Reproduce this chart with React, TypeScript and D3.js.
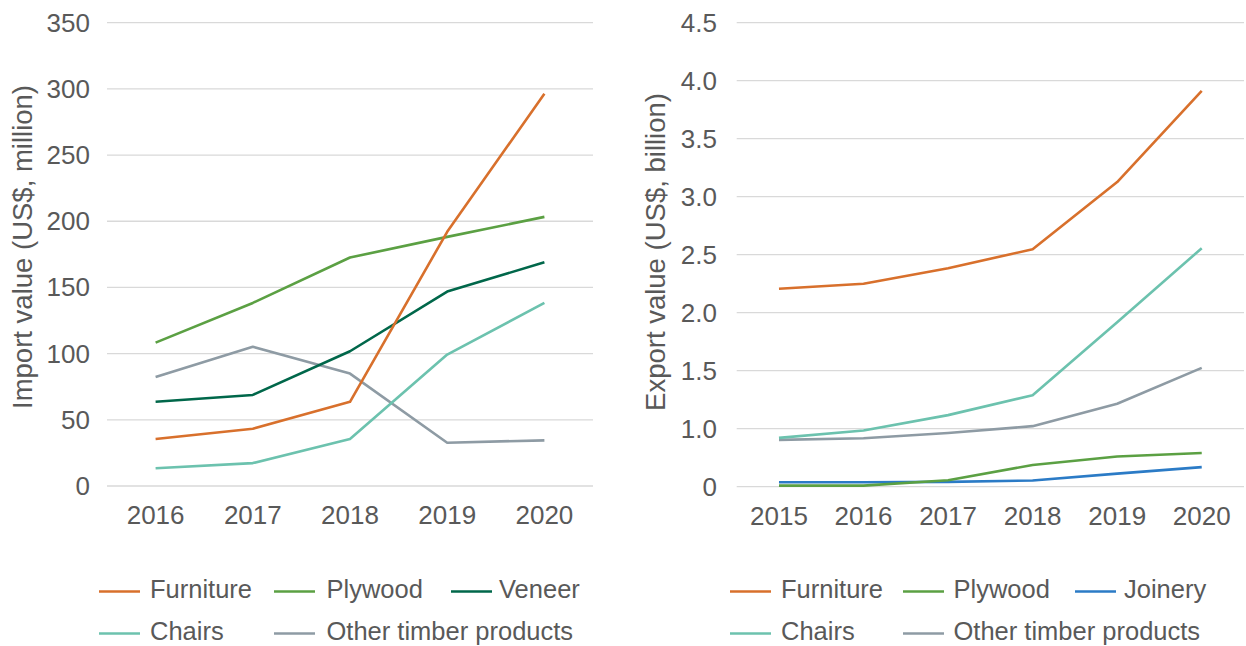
import React from "react";
import * as d3 from "d3";

const importYears = ["2016", "2017", "2018", "2019", "2020"];
const importFurniture = [35.5, 43.3, 63.6, 192, 296.4];
const importPlywood = [108.3, 138.3, 172.6, 188.2, 203.3];
const importVeneer = [63.6, 68.8, 101.8, 146.9, 169];
const importChairs = [13.4, 17.3, 35.5, 99.3, 138.3];
const importOther = [82.3, 105.2, 84.9, 32.7, 34.5];
const importTicks = [0, 50, 100, 150, 200, 250, 300, 350];

const exportYears = ["2015", "2016", "2017", "2018", "2019", "2020"];
const exportFurniture = [2.206, 2.25, 2.384, 2.547, 3.126, 3.912];
const exportPlywood = [0.509, 0.509, 0.556, 0.687, 0.761, 0.791];
const exportJoinery = [0.539, 0.539, 0.542, 0.553, 0.613, 0.669];
const exportChairs = [0.921, 0.984, 1.117, 1.289, 1.918, 2.556];
const exportOther = [0.904, 0.918, 0.963, 1.022, 1.215, 1.524];
const exportTickValues = [0.5, 1.0, 1.5, 2.0, 2.5, 3.0, 3.5, 4.0, 4.5];
const exportTickLabels = ["0", "1.0", "1.5", "2.0", "2.5", "3.0", "3.5", "4.0", "4.5"];

const C = {
  furniture: "#D8702C",
  plywood: "#5BA043",
  veneer: "#00674A",
  chairs: "#6CC2AE",
  other: "#8E9BA4",
  joinery: "#2B7BC6",
};
const FONT = "'Liberation Sans', Arial, Helvetica, sans-serif";
const TEXT = "#595959";
const GRID = "#D9D9D9";

type Series = { name: string; color: string; values: number[] };

function Panel(props: {
  years: string[];
  series: Series[];
  x0: number;
  x1: number;
  yTop: number;
  yBottom: number;
  domain: [number, number];
  tickValues: number[];
  tickLabels: string[];
  labelRight: number;
  title: string;
  titleX: number;
  titleY: number;
}) {
  const { years, series, x0, x1, yTop, yBottom, domain, tickValues, tickLabels, labelRight, title, titleX, titleY } =
    props;
  const x = d3.scaleBand<string>().domain(years).range([x0, x1]).padding(0);
  const y = d3.scaleLinear().domain(domain).range([yBottom, yTop]);
  const cx = (yr: string) => (x(yr) as number) + x.bandwidth() / 2;
  const line = d3
    .line<number>()
    .x((_, i) => cx(years[i]))
    .y((v) => y(v));
  return (
    <g>
      {tickValues.map((t, i) => (
        <g key={"t" + i}>
          <line x1={x0} x2={x1} y1={y(t)} y2={y(t)} stroke={GRID} strokeWidth={1.3} />
          <text
            x={labelRight}
            y={y(t)}
            textAnchor="end"
            dominantBaseline="central"
            fontSize={26}
            fill={TEXT}
            fontFamily={FONT}
          >
            {tickLabels[i]}
          </text>
        </g>
      ))}
      {years.map((yr) => (
        <text key={yr} x={cx(yr)} y={yBottom + 38} textAnchor="middle" fontSize={26} fill={TEXT} fontFamily={FONT}>
          {yr}
        </text>
      ))}
      <text
        transform={`translate(${titleX},${titleY}) rotate(-90)`}
        textAnchor="middle"
        dominantBaseline="central"
        fontSize={27.5}
        fill={TEXT}
        fontFamily={FONT}
      >
        {title}
      </text>
      {series.map((s) => (
        <path
          key={s.name}
          d={line(s.values) || ""}
          fill="none"
          stroke={s.color}
          strokeWidth={2.6}
          strokeLinejoin="round"
        />
      ))}
    </g>
  );
}

function Legend(props: { items: { name: string; color: string; x: number; tx: number; y: number }[] }) {
  return (
    <g>
      {props.items.map((it) => (
        <g key={it.name + it.x + it.y}>
          <line x1={it.x} x2={it.x + 41} y1={it.y} y2={it.y} stroke={it.color} strokeWidth={2.6} />
          <text x={it.tx} y={it.y - 2.5} dominantBaseline="central" fontSize={25.5} fill={TEXT} fontFamily={FONT}>
            {it.name}
          </text>
        </g>
      ))}
    </g>
  );
}

export default function App() {
  const importSeries: Series[] = [
    { name: "Other timber products", color: C.other, values: importOther },
    { name: "Chairs", color: C.chairs, values: importChairs },
    { name: "Veneer", color: C.veneer, values: importVeneer },
    { name: "Plywood", color: C.plywood, values: importPlywood },
    { name: "Furniture", color: C.furniture, values: importFurniture },
  ];
  const exportSeries: Series[] = [
    { name: "Other timber products", color: C.other, values: exportOther },
    { name: "Chairs", color: C.chairs, values: exportChairs },
    { name: "Joinery", color: C.joinery, values: exportJoinery },
    { name: "Plywood", color: C.plywood, values: exportPlywood },
    { name: "Furniture", color: C.furniture, values: exportFurniture },
  ];
  const r1 = 591.5;
  const r2 = 633.5;
  return (
    <svg width={1246} height={646} style={{ position: "absolute", left: 0, top: 0, background: "#fff" }}>
      <Panel
        years={importYears}
        series={importSeries}
        x0={107}
        x1={593}
        yTop={22.7}
        yBottom={486}
        domain={[0, 350]}
        tickValues={importTicks}
        tickLabels={importTicks.map(String)}
        labelRight={90}
        title="Import value (US$, million)"
        titleX={22}
        titleY={247}
      />
      <Panel
        years={exportYears}
        series={exportSeries}
        x0={736.7}
        x1={1244}
        yTop={22.7}
        yBottom={486.7}
        domain={[0.5, 4.5]}
        tickValues={exportTickValues}
        tickLabels={exportTickLabels}
        labelRight={717}
        title="Export value (US$, billion)"
        titleX={655}
        titleY={252}
      />
      <Legend
        items={[
          { name: "Furniture", color: C.furniture, x: 99, tx: 150, y: r1 },
          { name: "Plywood", color: C.plywood, x: 274, tx: 326.5, y: r1 },
          { name: "Veneer", color: C.veneer, x: 451, tx: 499, y: r1 },
          { name: "Chairs", color: C.chairs, x: 99, tx: 150, y: r2 },
          { name: "Other timber products", color: C.other, x: 274, tx: 326.5, y: r2 },
        ]}
      />
      <Legend
        items={[
          { name: "Furniture", color: C.furniture, x: 730, tx: 781, y: r1 },
          { name: "Plywood", color: C.plywood, x: 903, tx: 953.5, y: r1 },
          { name: "Joinery", color: C.joinery, x: 1075, tx: 1124, y: r1 },
          { name: "Chairs", color: C.chairs, x: 730, tx: 781, y: r2 },
          { name: "Other timber products", color: C.other, x: 903, tx: 953.5, y: r2 },
        ]}
      />
    </svg>
  );
}
